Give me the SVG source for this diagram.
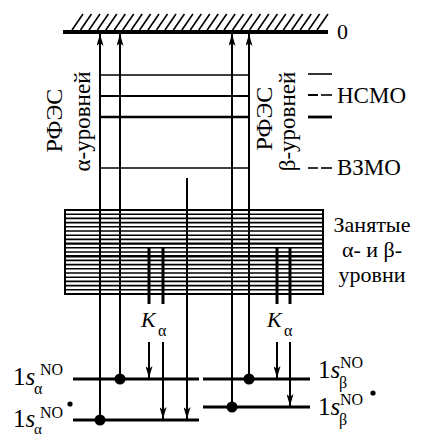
<svg xmlns="http://www.w3.org/2000/svg" width="421" height="435" viewBox="0 0 421 435">
<defs>
<marker id="ah" markerUnits="userSpaceOnUse" markerWidth="12" markerHeight="7" refX="12" refY="3.5" orient="auto">
<path d="M0,0 L12,3.5 L0,7 L3,3.5 z" fill="#000"/>
</marker>
</defs>
<rect width="421" height="435" fill="#fff"/>

<g id="vacuum">
<path stroke="#000" fill="none" stroke-width="1.6" d="M72 30l11-16M80.5 30l11-16M89 30l11-16M97.4 30l11-16M105.8 30l11-16M114.3 30l11-16M122.7 30l11-16M131.2 30l11-16M139.6 30l11-16M148 30l11-16M156.5 30l11-16M165 30l11-16M173.4 30l11-16M181.9 30l11-16M190.3 30l11-16M198.8 30l11-16M207.2 30l11-16M215.7 30l11-16M224.1 30l11-16M232.6 30l11-16M241 30l11-16M249.5 30l11-16M257.9 30l11-16M266.4 30l11-16M274.8 30l11-16M283.3 30l11-16M291.7 30l11-16M300.2 30l11-16M308.6 30l11-16M317 30l11-16"/>
<line x1="63" y1="32" x2="328" y2="32" stroke="#000" stroke-width="4"/>
<text x="337" y="39" font-family="'Liberation Serif', serif" font-size="22">0</text>
</g>

<g id="unoccupied-levels" stroke="#000" fill="none">
<line x1="100" y1="75" x2="249" y2="75" stroke-width="1.5"/>
<line x1="100" y1="96" x2="249" y2="96" stroke-width="2"/>
<line x1="100" y1="117" x2="249" y2="117" stroke-width="2.6"/>
<line x1="100" y1="168" x2="249" y2="168" stroke-width="1.6"/>
</g>

<g id="levels-legend">
<g stroke="#000" fill="none">
<line x1="308" y1="74" x2="332" y2="74" stroke-width="1.6"/>
<line x1="308" y1="95" x2="318" y2="95" stroke-width="2"/>
<line x1="321" y1="95" x2="332" y2="95" stroke-width="1.6"/>
<line x1="308" y1="117" x2="332" y2="117" stroke-width="2.8"/>
<line x1="308" y1="168" x2="318" y2="168" stroke-width="1.6"/>
<line x1="321" y1="168" x2="332" y2="168" stroke-width="1.6"/>
</g>
<text x="337" y="103" font-family="'Liberation Serif', serif" font-size="23">НСМО</text>
<text x="337" y="175" font-family="'Liberation Serif', serif" font-size="23">ВЗМО</text>
</g>

<g id="occupied-levels">
<path stroke="#000" fill="none" stroke-width="1.6" d="M65 214.2H323M65 218.4H323M65 222.6H323M65 226.8H323M65 231H323M65 235.2H323M65 239.4H323M65 247.8H323M65 252H323M65 260.4H323M65 264.6H323M65 268.8H323M65 273H323M65 277.2H323M65 281.4H323M65 285.6H323M65 289.8H323"/>
<path stroke="#000" fill="none" stroke-width="2.4" d="M65 243.6H323M65 256.2H323"/>
<rect x="65" y="210" width="258" height="84" stroke="#000" fill="none" stroke-width="2"/>
<text x="372" y="232" font-family="'Liberation Serif', serif" font-size="22" text-anchor="middle">Занятые</text>
<text x="372" y="257" font-family="'Liberation Serif', serif" font-size="22" text-anchor="middle">α- и β-</text>
<text x="372" y="282" font-family="'Liberation Serif', serif" font-size="22" text-anchor="middle">уровни</text>
</g>

<g id="core-levels" stroke="#000" stroke-width="3.2">
<line x1="73" y1="379" x2="199" y2="379"/>
<line x1="73" y1="420" x2="199" y2="420"/>
<line x1="203" y1="379" x2="310" y2="379"/>
<line x1="203" y1="407" x2="310" y2="407"/>
</g>

<g id="label-1s-alpha">
<text x="13" y="385" font-family="'Liberation Serif', serif" font-size="25">1<tspan font-style="italic">s</tspan></text>
<text x="40" y="375" font-family="'Liberation Serif', serif" font-size="16">NO</text>
<text x="34" y="394" font-family="'Liberation Serif', serif" font-size="16">α</text>
</g>
<g id="label-1s-alpha-star">
<text x="13" y="427" font-family="'Liberation Serif', serif" font-size="25">1<tspan font-style="italic">s</tspan></text>
<text x="40" y="418" font-family="'Liberation Serif', serif" font-size="16">NO</text>
<circle cx="70" cy="404" r="2.6" fill="#000"/>
<text x="34" y="434" font-family="'Liberation Serif', serif" font-size="15">α</text>
</g>
<g id="label-1s-beta">
<text x="318" y="378" font-family="'Liberation Serif', serif" font-size="25">1<tspan font-style="italic">s</tspan></text>
<text x="340" y="368" font-family="'Liberation Serif', serif" font-size="16">NO</text>
<text x="339" y="388" font-family="'Liberation Serif', serif" font-size="16">β</text>
</g>
<g id="label-1s-beta-star">
<text x="318" y="415" font-family="'Liberation Serif', serif" font-size="25">1<tspan font-style="italic">s</tspan></text>
<text x="340" y="405" font-family="'Liberation Serif', serif" font-size="16">NO</text>
<circle cx="373" cy="393" r="2.6" fill="#000"/>
<text x="339" y="425" font-family="'Liberation Serif', serif" font-size="16">β</text>
</g>

<g id="label-rfes-alpha">
<text transform="translate(62,120.5) rotate(-90)" font-family="'Liberation Serif', serif" font-size="24" text-anchor="middle">РФЭС</text>
<text transform="translate(90,121.5) rotate(-90)" font-family="'Liberation Serif', serif" font-size="23" text-anchor="middle">α-уровней</text>
</g>
<g id="label-rfes-beta">
<text transform="translate(272,118.5) rotate(-90)" font-family="'Liberation Serif', serif" font-size="24" text-anchor="middle">РФЭС</text>
<text transform="translate(295,121.5) rotate(-90)" font-family="'Liberation Serif', serif" font-size="23" text-anchor="middle">β-уровней</text>
</g>

<g id="k-alpha-left">
<text x="141" y="327" font-family="'Liberation Serif', serif" font-size="22" font-style="italic">K</text>
<text x="158" y="336" font-family="'Liberation Serif', serif" font-size="16">α</text>
</g>
<g id="k-alpha-right">
<text x="267" y="327" font-family="'Liberation Serif', serif" font-size="22" font-style="italic">K</text>
<text x="284" y="336" font-family="'Liberation Serif', serif" font-size="16">α</text>
</g>

<g id="connectors" stroke="#000" fill="none">
<line stroke-width="2" x1="100" y1="420" x2="100" y2="34" marker-end="url(#ah)"/>
<line stroke-width="2" x1="120" y1="379" x2="120" y2="34" marker-end="url(#ah)"/>
<line stroke-width="2" x1="232" y1="407" x2="232" y2="34" marker-end="url(#ah)"/>
<line stroke-width="2" x1="249" y1="379" x2="249" y2="34" marker-end="url(#ah)"/>
<line stroke-width="2" x1="187" y1="178" x2="187" y2="419" marker-end="url(#ah)"/>
<line stroke-width="3" x1="149" y1="248" x2="149" y2="304"/>
<line stroke-width="3" x1="163" y1="248" x2="163" y2="304"/>
<line stroke-width="3" x1="277" y1="248" x2="277" y2="304"/>
<line stroke-width="3" x1="290" y1="248" x2="290" y2="304"/>
<line stroke-width="2" x1="149" y1="342" x2="149" y2="378" marker-end="url(#ah)"/>
<line stroke-width="2" x1="163" y1="342" x2="163" y2="419" marker-end="url(#ah)"/>
<line stroke-width="2" x1="277" y1="342" x2="277" y2="378" marker-end="url(#ah)"/>
<line stroke-width="2" x1="290" y1="342" x2="290" y2="406" marker-end="url(#ah)"/>
<circle cx="120" cy="379" r="5.5" fill="#000" stroke="none"/>
<circle cx="100" cy="420" r="5.5" fill="#000" stroke="none"/>
<circle cx="249" cy="379" r="5.5" fill="#000" stroke="none"/>
<circle cx="232" cy="407" r="5.5" fill="#000" stroke="none"/>
</g>
</svg>
